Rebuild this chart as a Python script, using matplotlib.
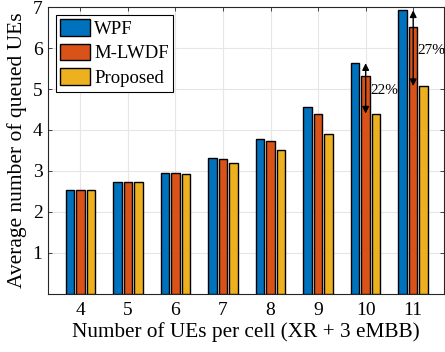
import numpy as np
import matplotlib
matplotlib.use("Agg")
import matplotlib.pyplot as plt

plt.rcParams['font.family'] = ['Liberation Serif', 'DejaVu Serif']

users = [4, 5, 6, 7, 8, 9, 10, 11]
wpf = [2.54, 2.73, 2.95, 3.32, 3.79, 4.57, 5.63, 6.92]
mlwdf = [2.54, 2.73, 2.95, 3.30, 3.74, 4.38, 5.31, 6.51]
proposed = [2.54, 2.73, 2.92, 3.20, 3.51, 3.89, 4.40, 5.07]
series_names = ["WPF", "M-LWDF", "Proposed"]
colors = ["#0072BD", "#D95319", "#EDB120"]

fig = plt.figure(figsize=(4.45, 3.52), dpi=100)
ax = fig.add_axes([0.108, 0.165, 0.89, 0.815])

x = np.array(users, dtype=float)
width = 0.18
offsets = [-0.22, 0.0, 0.22]
for vals, off, c, name in zip([wpf, mlwdf, proposed], offsets, colors, series_names):
    ax.bar(x + off, vals, width=width, color=c, edgecolor='black', linewidth=1.0,
           label=name, zorder=3)

# reduction arrows between WPF and proposed
label_y = {6: 4.97, 7: 5.95}
for idx in [6, 7]:
    xi = x[idx]
    top, bot = wpf[idx], proposed[idx]
    ax.annotate('', xy=(xi, bot), xytext=(xi, top),
                arrowprops=dict(arrowstyle='<|-|>', color='black', lw=1.0,
                                mutation_scale=10, shrinkA=0, shrinkB=0),
                zorder=5)
    pct = round(100 * (top - bot) / top)
    ax.text(xi + 0.09, label_y[idx], f"{pct}%", fontsize=11, ha='left',
            va='center', zorder=6)

ax.set_xlim(3.32, 11.65)
ax.set_ylim(0, 7)
ax.set_xticks(users)
ax.set_yticks([1, 2, 3, 4, 5, 6, 7])
ax.tick_params(direction='in', top=True, right=True, labelsize=14, length=3,
               color='#262626', width=0.6)
ax.tick_params(axis='x', pad=6)
ax.tick_params(axis='y', pad=4)
ax.grid(True, color='#e6e6e6', linewidth=0.8, zorder=0)
ax.set_axisbelow(True)
for s in ax.spines.values():
    s.set_color('#262626')
    s.set_linewidth(0.8)

ax.set_xlabel("Number of UEs per cell (XR + 3 eMBB)", fontsize=15.3, labelpad=2)
ax.set_ylabel("Average number of queued UEs", fontsize=15.5, labelpad=4)

leg = ax.legend(loc='upper left', fontsize=13.5, frameon=True, fancybox=False,
                edgecolor='black', framealpha=1, borderpad=0.25, labelspacing=0.3,
                handlelength=1.6, handleheight=1.0, handletextpad=0.2,
                borderaxespad=0.4)
leg.get_frame().set_linewidth(0.8)

fig.savefig("out.png", dpi=100)
